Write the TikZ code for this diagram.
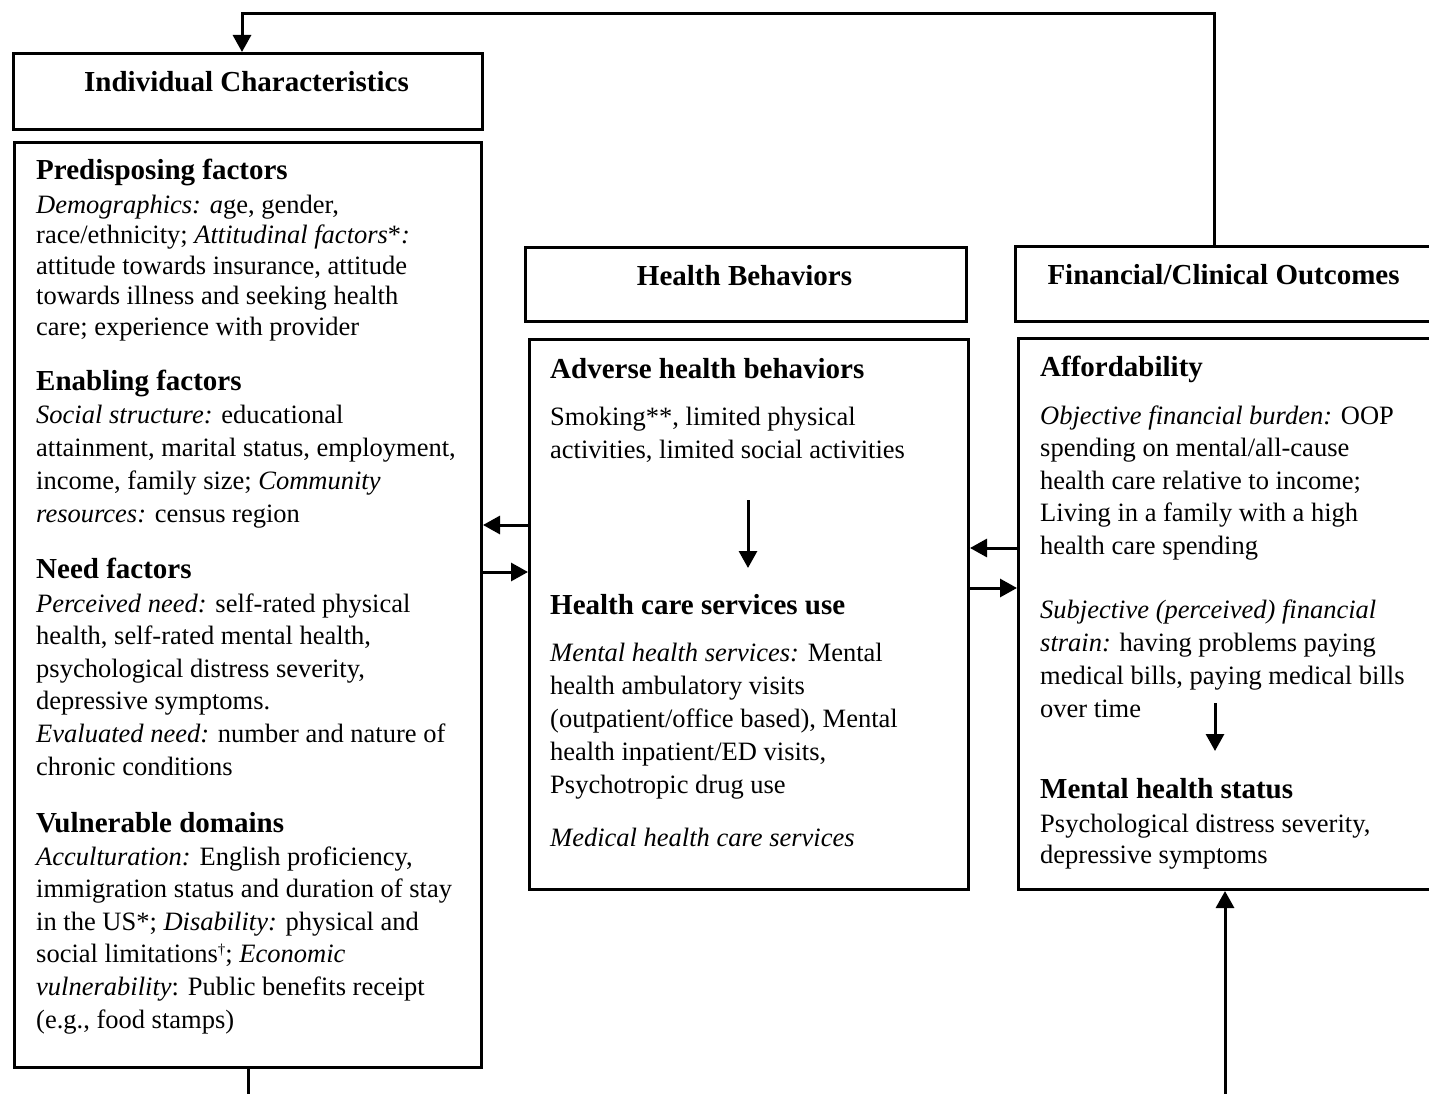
\documentclass[tikz,border=0pt]{standalone}
\usepackage{fontspec}
\setmainfont{Liberation Serif}
\usetikzlibrary{arrows.meta}
\tikzset{
  box/.style={draw, line width=3pt, inner sep=0pt, anchor=north west},
  arr/.style={line width=3pt, -{Triangle[length=17pt,width=18pt]}},
  ln/.style={line width=3pt},
  hd/.style={font=\fontsize{29}{33}\selectfont\bfseries, anchor=base west, inner sep=0pt},
  bt/.style={font=\fontsize{26.5}{#1}\selectfont, anchor=base west, inner sep=0pt, align=left},
  bt/.default=33,
  ttl/.style={font=\fontsize{29}{33}\selectfont\bfseries, anchor=base, inner sep=0pt},
}
\begin{document}
\begin{tikzpicture}[x=1pt,y=-1pt]
\clip (0,0) rectangle (1429,1094);
% boxes
\node[box, minimum width=469pt, minimum height=76pt] (ich) at (12,52) {};
\node[box, minimum width=467pt, minimum height=925pt] (lbox) at (13,141) {};
\node[box, minimum width=441pt, minimum height=74pt] (hbh) at (524,246) {};
\node[box, minimum width=439pt, minimum height=550pt] (mbox) at (528,338) {};
\node[box, minimum width=419pt, minimum height=75pt] (fch) at (1014,245) {};
\node[box, minimum width=419pt, minimum height=551pt] (rbox) at (1017,337) {};
% titles
\node[ttl] (icht) at (246.5,92) {Individual Characteristics};
\node[ttl] (hbht) at (744.5,285) {Health Behaviors};
\node[ttl] (fcht) at (1223.5,284) {Financial/Clinical Outcomes};
% left box text (multi-line nodes are placed by the baseline of their last line)
\node[hd] (pf) at (36,180) {Predisposing factors};
\node[bt=30.5] (pft) at (36,335) {\textit{Demographics: a}ge, gender,\\
race/ethnicity; \textit{Attitudinal factors}*\textit{:}\\
attitude towards insurance, attitude\\
towards illness and seeking health\\
care; experience with provider};
\node[hd] (ef) at (36,390) {Enabling factors};
\node[bt] (eft) at (36,522) {\textit{Social structure:} educational\\
attainment, marital status, employment,\\
income, family size; \textit{Community}\\
\textit{resources:} census region};
\node[hd] (nf) at (36,578) {Need factors};
\node[bt=32.6] (nft) at (36,775) {\textit{Perceived need:} self-rated physical\\
health, self-rated mental health,\\
psychological distress severity,\\
depressive symptoms.\\
\textit{Evaluated need:} number and nature of\\
chronic conditions};
\node[hd] (vd) at (36,832) {Vulnerable domains};
\node[bt=32.6] (vdt) at (36,1028) {\textit{Acculturation:} English proficiency,\\
immigration status and duration of stay\\
in the US*; \textit{Disability:} physical and\\
social limitations{\fontsize{15}{15}\selectfont\raisebox{8pt}{\dag}}; \textit{Economic}\\
\textit{vulnerability}: Public benefits receipt\\
(e.g., food stamps)};
% middle box text
\node[hd] (ahb) at (550,378) {Adverse health behaviors};
\node[bt] (ahbt) at (550,458) {Smoking**, limited physical\\
activities, limited social activities};
\node[hd] (hcs) at (550,614) {Health care services use};
\node[bt=33] (hcst) at (550,793) {\textit{Mental health services:} Mental\\
health ambulatory visits\\
(outpatient/office based), Mental\\
health inpatient/ED visits,\\
Psychotropic drug use};
\node[bt] (mhcs) at (550,846) {\textit{Medical health care services}};
% right box text
\node[hd] (aff) at (1040,376) {Affordability};
\node[bt=32.5] (afft) at (1040,554) {\textit{Objective financial burden:} OOP\\
spending on mental/all-cause\\
health care relative to income;\\
Living in a family with a high\\
health care spending};
\node[bt=32.7] (sft) at (1040,717) {\textit{Subjective (perceived) financial}\\
\textit{strain:} having problems paying\\
medical bills, paying medical bills\\
over time};
\node[hd] (mhs) at (1040,798) {Mental health status};
\node[bt=31] (mhst) at (1040,863) {Psychological distress severity,\\
depressive symptoms};
% connector coordinates
\coordinate (topR) at (1214,14);
\coordinate (topL) at (242,14);
\coordinate (yA) at (0,525);
\coordinate (yB) at (0,572);
\coordinate (yC) at (0,548);
\coordinate (yD) at (0,588);
\coordinate (botL) at (248,1100);
\coordinate (botR) at (1225,1100);
\coordinate (dm1) at (748,500);
\coordinate (dm2) at (748,568);
\coordinate (dr1) at (1215,703);
\coordinate (dr2) at (1215,751);
% connectors
\draw[arr] (fch.north -| topR) -- (topR) -- (topL) -- (ich.north -| topL);
\draw[arr] (mbox.west |- yA) -- (lbox.east |- yA);
\draw[arr] (lbox.east |- yB) -- (mbox.west |- yB);
\draw[arr] (rbox.west |- yC) -- (mbox.east |- yC);
\draw[arr] (mbox.east |- yD) -- (rbox.west |- yD);
\draw[arr] (dm1) -- (dm2);
\draw[arr] (dr1) -- (dr2);
\draw[ln] (lbox.south -| botL) -- (botL);
\draw[arr] (botR) -- (rbox.south -| botR);
\end{tikzpicture}
\end{document}
